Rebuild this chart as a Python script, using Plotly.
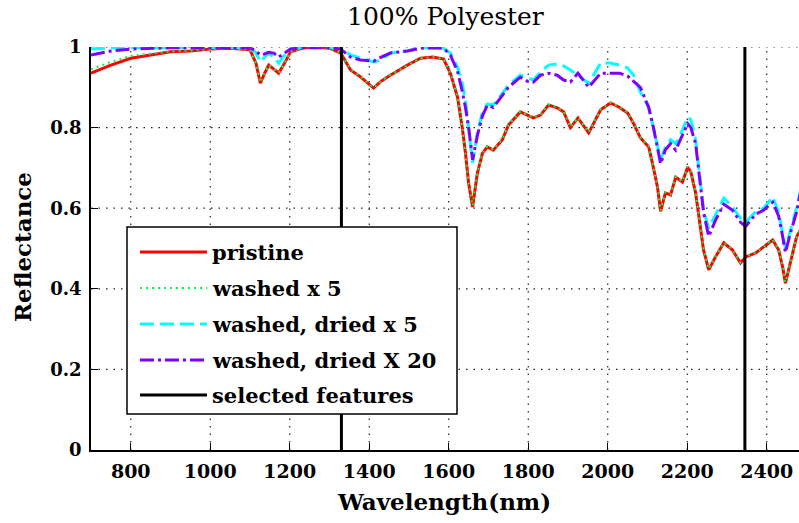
import plotly.graph_objects as go

wavelength = [700, 750, 800, 850, 900, 950, 1000, 1050, 1100, 1115, 1126, 1137, 1147, 1160, 1172, 1187,
              1202, 1230, 1260, 1300, 1328, 1353, 1378, 1411, 1430, 1453, 1496, 1529, 1560, 1587, 1604,
              1622, 1634, 1642, 1650, 1660, 1672, 1685, 1697, 1712, 1735, 1750, 1780, 1798, 1813, 1831,
              1851, 1873, 1889, 1906, 1925, 1952, 1982, 2007, 2030, 2050, 2065, 2082, 2103, 2115, 2125,
              2133, 2145, 2158, 2171, 2188, 2201, 2209, 2221, 2234, 2241, 2254, 2271, 2292, 2314, 2334,
              2347, 2372, 2392, 2415, 2430, 2440, 2447, 2460, 2475, 2485]

pristine = [0.935, 0.955, 0.972, 0.980, 0.988, 0.990, 0.995, 0.997, 0.993, 0.960, 0.910, 0.935, 0.955, 0.945,
            0.935, 0.960, 0.988, 0.997, 1.000, 0.997, 0.985, 0.943, 0.926, 0.898, 0.915, 0.930, 0.955, 0.972,
            0.975, 0.970, 0.935, 0.876, 0.800, 0.737, 0.662, 0.603, 0.687, 0.737, 0.752, 0.744, 0.770, 0.806,
            0.839, 0.831, 0.824, 0.831, 0.856, 0.849, 0.839, 0.800, 0.824, 0.787, 0.844, 0.861, 0.850, 0.836,
            0.810, 0.775, 0.752, 0.700, 0.653, 0.592, 0.638, 0.633, 0.677, 0.665, 0.702, 0.690, 0.638, 0.546,
            0.496, 0.447, 0.479, 0.514, 0.496, 0.464, 0.479, 0.489, 0.504, 0.521, 0.496, 0.454, 0.414, 0.471,
            0.529, 0.546]

washed_5 = [0.945, 0.963, 0.978, 0.983, 0.989, 0.991, 0.995, 0.997, 0.993, 0.960, 0.912, 0.936, 0.955, 0.945,
            0.936, 0.960, 0.988, 0.997, 1.000, 0.997, 0.985, 0.944, 0.927, 0.899, 0.915, 0.931, 0.955, 0.972,
            0.975, 0.970, 0.936, 0.877, 0.801, 0.738, 0.663, 0.606, 0.688, 0.738, 0.753, 0.745, 0.771, 0.807,
            0.840, 0.832, 0.825, 0.832, 0.857, 0.850, 0.840, 0.801, 0.825, 0.788, 0.845, 0.862, 0.851, 0.837,
            0.811, 0.776, 0.753, 0.701, 0.654, 0.594, 0.639, 0.634, 0.678, 0.666, 0.703, 0.691, 0.639, 0.547,
            0.497, 0.449, 0.480, 0.515, 0.497, 0.465, 0.480, 0.490, 0.505, 0.522, 0.497, 0.456, 0.416, 0.472,
            0.530, 0.547]

washed_dried_5 = [0.995, 0.998, 0.998, 0.998, 0.998, 0.998, 0.998, 0.998, 0.998, 0.985, 0.963, 0.975, 0.985,
                  0.975, 0.960, 0.980, 0.995, 0.998, 0.998, 0.998, 0.998, 0.980, 0.972, 0.963, 0.968, 0.985,
                  0.990, 0.998, 0.998, 0.997, 0.985, 0.950, 0.910, 0.868, 0.800, 0.712, 0.787, 0.840, 0.858,
                  0.856, 0.885, 0.905, 0.930, 0.923, 0.918, 0.938, 0.955, 0.958, 0.953, 0.943, 0.930, 0.910,
                  0.960, 0.960, 0.955, 0.948, 0.930, 0.888, 0.851, 0.800, 0.752, 0.722, 0.752, 0.770, 0.760,
                  0.794, 0.826, 0.820, 0.770, 0.662, 0.596, 0.550, 0.585, 0.625, 0.603, 0.575, 0.565, 0.591,
                  0.600, 0.628, 0.590, 0.538, 0.500, 0.546, 0.600, 0.645]

washed_dried_20 = [0.980, 0.990, 0.995, 0.997, 0.998, 0.998, 0.998, 0.998, 0.998, 0.990, 0.980, 0.983, 0.987,
                   0.985, 0.975, 0.985, 0.995, 0.998, 0.998, 0.998, 0.995, 0.975, 0.968, 0.965, 0.975, 0.985,
                   0.990, 0.997, 0.998, 0.997, 0.980, 0.940, 0.890, 0.850, 0.800, 0.720, 0.780, 0.830, 0.855,
                   0.850, 0.880, 0.900, 0.925, 0.915, 0.913, 0.930, 0.935, 0.930, 0.918, 0.913, 0.935, 0.900,
                   0.935, 0.935, 0.935, 0.928, 0.915, 0.900, 0.850, 0.800, 0.750, 0.710, 0.745, 0.760, 0.744,
                   0.780, 0.810, 0.800, 0.760, 0.650, 0.590, 0.530, 0.570, 0.610, 0.595, 0.565, 0.555, 0.585,
                   0.595, 0.615, 0.580, 0.530, 0.490, 0.540, 0.590, 0.640]

selected_features = [1330, 2345]

x_ticks = [800, 1000, 1200, 1400, 1600, 1800, 2000, 2200, 2400]
y_ticks = [0, 0.2, 0.4, 0.6, 0.8, 1]
y_tick_labels = ["0", "0.2", "0.4", "0.6", "0.8", "1"]

legend_labels = ["pristine", "washed x 5", "washed, dried x 5", "washed, dried X 20", "selected features"]
colors = ["#ff0000", "#00ff40", "#00ffff", "#8000ff", "#000000"]
dashes = ["solid", "2px,4px", "14px,6px", "14px,4px,3px,4px", "solid"]
widths = [3, 2, 3, 3, 3]

SERIF = "DejaVu Serif"

fig = go.Figure()
series = [pristine, washed_5, washed_dried_5, washed_dried_20]
for vals, name, c, d, w in zip(series, legend_labels[:4], colors[:4], dashes[:4], widths[:4]):
    fig.add_trace(go.Scatter(x=wavelength, y=vals, mode="lines", name=name,
                             line=dict(color=c, dash=d, width=w), showlegend=False))

sx, sy = [], []
for f in selected_features:
    sx += [f, f, None]
    sy += [0, 1, None]
fig.add_trace(go.Scatter(x=sx, y=sy, mode="lines", name=legend_labels[4],
                         line=dict(color="black", width=3), showlegend=False, cliponaxis=False))

# plot-area geometry in pixels
L, R, T, B = 91, 799, 47, 450
W, H = R - L, B - T


def px(xp):
    return (xp - L) / W


def py(yp):
    return (B - yp) / H


shapes = []
# dotted grid (MATLAB style)
for xv in x_ticks:
    shapes.append(dict(type="line", xref="x", yref="paper", x0=xv, x1=xv, y0=0, y1=1,
                       line=dict(color="#222222", width=1.2, dash="1.5px,6px"), layer="below"))
for yv in y_ticks[1:]:
    shapes.append(dict(type="line", xref="paper", yref="y", x0=0, x1=1, y0=yv, y1=yv,
                       line=dict(color="#222222", width=1.2, dash="1.5px,6px"), layer="below"))

shapes.append(dict(type="rect", xref="paper", yref="paper", x0=px(127), x1=px(457), y0=py(414), y1=py(227),
                   line=dict(color="black", width=1.5), fillcolor="white", layer="above"))
annotations = []
entry_y = [252, 288, 324, 360, 395]
for i, (lab, c, d, w) in enumerate(zip(legend_labels, colors, dashes, widths)):
    yy = py(entry_y[i])
    shapes.append(dict(type="line", xref="paper", yref="paper", x0=px(140), x1=px(207), y0=yy, y1=yy,
                       line=dict(color=c, dash=d, width=w), layer="above"))
    annotations.append(dict(text="<b>" + lab + "</b>", xref="paper", yref="paper", x=px(210), y=yy,
                            xanchor="left", yanchor="middle", showarrow=False,
                            font=dict(family=SERIF, size=21, color="black")))

annotations.append(dict(text="<b>Wavelength(nm)</b>", xref="paper", yref="paper", x=px(444), y=py(501),
                        xanchor="center", yanchor="middle", showarrow=False,
                        font=dict(family=SERIF, size=23, color="black")))
annotations.append(dict(text="<b>Reflectance</b>", xref="paper", yref="paper", x=px(22), y=py(247),
                        xanchor="center", yanchor="middle", showarrow=False, textangle=-90,
                        font=dict(family=SERIF, size=23, color="black")))
annotations.append(dict(text="100% Polyester", xref="paper", yref="paper", x=px(445), y=py(17),
                        xanchor="center", yanchor="middle", showarrow=False,
                        font=dict(family=SERIF, size=25, color="black")))

fig.update_layout(
    width=799, height=523,
    margin=dict(l=L, r=799 - R, t=T, b=523 - B, pad=0),
    paper_bgcolor="white", plot_bgcolor="white",
    showlegend=False,
    shapes=shapes, annotations=annotations,
    xaxis=dict(range=[700, 700 + W / 0.3975], tickvals=x_ticks, ticks="inside", ticklen=7,
               tickcolor="black", tickwidth=1, showline=True, linecolor="black", linewidth=1.5,
               showgrid=False, zeroline=False,
               tickfont=dict(family=SERIF, size=19, color="black", weight="bold"), ticklabelstandoff=3),
    yaxis=dict(range=[0, 1], tickvals=y_ticks, ticktext=y_tick_labels, ticks="inside", ticklen=7,
               tickcolor="black", tickwidth=1, showline=True, linecolor="black", linewidth=1.5,
               showgrid=False, zeroline=False,
               tickfont=dict(family=SERIF, size=18, color="black", weight="bold"), ticklabelstandoff=4),
)

fig.write_html("out.html")
